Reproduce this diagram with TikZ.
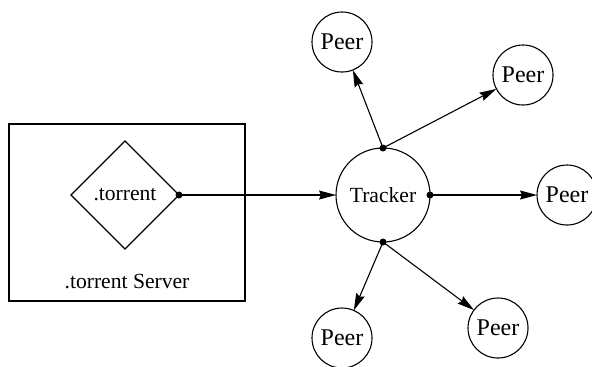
\documentclass[tikz,border=0pt]{standalone}
\usepackage{fontspec}
\setmainfont{Liberation Serif}
\usetikzlibrary{shapes.geometric}
\usetikzlibrary{arrows.meta}

\begin{document}
\begin{tikzpicture}[x=0.5pt, y=-0.5pt, line width=0.55pt,
    font=\fontsize{10.8}{13}\selectfont,
    every node/.style={inner sep=0pt,outer sep=0pt},
    peer/.style={circle, draw, minimum size=30pt, font=\fontsize{12}{14}\selectfont},
    dot/.style={circle, fill, minimum size=3.5pt},
    link/.style={-{Stealth[length=8.5pt,width=4.5pt,inset=1pt]}}]
      \useasboundingbox (0,0) rectangle (592,366);

      \draw (9,124) rectangle (245,301);
      \draw (125,195) node[diamond, draw, minimum width=54pt, minimum height=54pt] (torrent) {.torrent};
      \draw (127,281) node (server) {.torrent Server};

      \draw (383,195) node[circle, draw, minimum size=47pt] (tracker) {Tracker};

      \draw (342,42) node[peer] (p1) {Peer};
      \draw (523,75) node[peer] (p2) {Peer};
      \draw (567,195) node[peer] (p3) {Peer};
      \draw (498,328) node[peer] (p4) {Peer};
      \draw (342,338) node[peer] (p5) {Peer};

      \draw[link] (torrent.east) -- (tracker);

      \draw[link] (tracker.north) -- (p1);
      \draw[link] (tracker.north) -- (p2);
      \draw[link] (tracker.east) -- (p3);
      \draw[link] (tracker.south) -- (p4);
      \draw[link] (tracker.south) -- (p5);

      \node[dot] at (torrent.east) {};
      \node[dot] at (tracker.north) {};
      \node[dot] at (tracker.east) {};
      \node[dot] at (tracker.south) {};
    \end{tikzpicture}
\end{document}
